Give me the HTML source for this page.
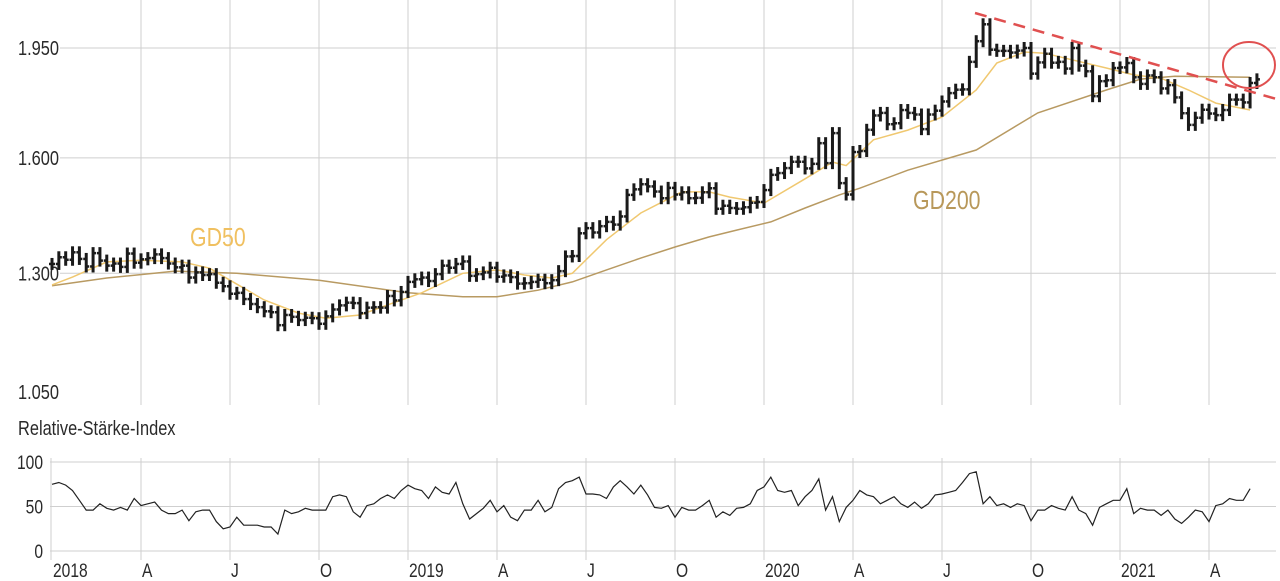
<!DOCTYPE html>
<html><head><meta charset="utf-8"><style>
html,body{margin:0;padding:0;background:#fff}
svg{display:block}
text{font-family:"Liberation Sans",sans-serif}
</style></head><body>
<svg id="c" width="1280" height="581" viewBox="0 0 1280 581"></svg>
<script>
// ---- data ----
const priceTicks = [1950, 1600, 1300, 1050];
const priceTickLabels = ["1.950", "1.600", "1.300", "1.050"];
const rsiTicks = [100, 50, 0];
const quarterLabels = ["2018","A","J","O","2019","A","J","O","2020","A","J","O","2021","A"];
const weeklyClose = [
1322,1338,1332,1350,1334, 1316,1348,1330,1318, 1323,1315,1347,1325,1333, 1336,1345,1336,1323,
1314,1318,1290,1302, 1296,1298,1278,1270,1253, 1255,1241,1230,1223, 1214,1212,1184,1206,1202,
1195,1200,1199,1187, 1203,1218,1227,1233, 1232,1210,1222,1223, 1222,1248,1238,1257,1280,
1286,1290,1282,1298, 1318,1313,1322,1328, 1294,1298,1302,1313,1292, 1295,1291,1276,1277,
1280,1285,1277,1284,1305, 1340,1341,1397,1410, 1399,1415,1426,1419, 1440,1497,1512,1526,1520,
1506,1488,1516,1498, 1504,1488,1489,1504, 1515,1460,1468,1462,1460, 1464,1476,1478,1510,
1552,1557,1571,1589,1589, 1570,1583,1643,1585, 1673,1529,1498,1617, 1620,1683,1727,1735,
1700,1703,1744,1735,1730, 1685,1730,1742,1771, 1798,1809,1810,1902,1974, 2035,1944,1940,1940,
1934,1941,1950,1862, 1900,1930,1899,1902,1879, 1950,1889,1870,1788, 1837,1840,1881,1883,1898,
1850,1828,1856,1850, 1813,1824,1784,1734, 1698,1720,1745,1733, 1728,1744,1777,1777,1768, 1831,1843
];
const gd50Weeks = [0,3,8,13,19,23,26,31,36,40,45,49,54,60,65,69,73,76,81,86,92,96,99,104,110,114,116,120,125,130,135,138,142,145,149,154,158,162,166,170,175];
const gd50Values = [1273,1291,1327,1331,1327,1312,1284,1239,1210,1199,1206,1228,1255,1300,1308,1296,1289,1300,1381,1449,1505,1505,1491,1475,1541,1588,1578,1653,1682,1722,1808,1898,1936,1932,1909,1881,1858,1847,1808,1766,1744];
const gd200Weeks = [0,8,18,27,39,52,60,65,71,76,81,86,91,96,100,105,110,115,118,125,135,144,154,159,164,175];
const gd200Values = [1271,1289,1305,1300,1284,1255,1246,1246,1261,1280,1308,1336,1363,1388,1405,1426,1462,1497,1515,1565,1623,1735,1808,1844,1853,1850];
const rsiValues = [
75,77,74,68,57,46,46,53,48,46,49,46,59,51,53,55,46,42,42,46,34,44,46,46,33,25,27,38,29,29,29,27,27,19,
46,42,44,48,46,46,46,61,63,61,44,38,51,53,59,63,59,68,74,70,68,59,72,66,64,77,53,36,42,48,57,44,51,38,34,
46,46,57,44,49,70,77,79,83,64,64,63,59,72,79,72,64,74,63,49,48,51,38,49,46,46,51,57,38,44,40,48,49,53,68,72,
83,68,66,68,51,61,68,81,46,61,33,49,57,68,63,61,53,57,61,53,49,55,48,53,63,64,66,68,77,87,89,53,61,51,53,49,
53,51,34,46,46,51,48,46,61,46,42,29,49,53,57,57,70,42,48,46,46,40,46,36,31,38,46,44,33,51,53,59,57,57,70
];
// ---- scales ----
const NS = "http://www.w3.org/2000/svg";
const svg = document.getElementById('c');
const X0 = 52, WK = 89/13;
const xW = w => X0 + w * WK;
const yP = p => 48 + Math.log(1950 / p) * 555.6;
const yR = v => 551 - v * 0.89;
function el(tag, attrs, parent) {
  const e = document.createElementNS(NS, tag);
  for (const k in attrs) e.setAttribute(k, attrs[k]);
  (parent || svg).appendChild(e);
  return e;
}
function txt(s, x, y, size, color, anchor) {
  const t = el('text', {transform: `translate(${x},${y}) scale(0.82,1)`, 'font-size': size, style: 'fill:' + color, 'text-anchor': anchor || 'start'});
  t.textContent = s;
  return t;
}
// ---- grid ----
const grid = el('g', {stroke: '#cfcfcf', 'stroke-width': 1});


quarterLabels.forEach((q, i) => {
  const x = xW(i * 13);
  if (i > 0) {
    el('line', {x1: x, x2: x, y1: 0, y2: 405}, grid);
    el('line', {x1: x, x2: x, y1: 458, y2: 560}, grid);
  }
  const t = txt(q, x + 1, 577, 19, '#2a2a2a');
  
  
});
priceTicks.forEach((p, i) => {
  const y = yP(p);
  if (i < 3) el('line', {x1: 60, x2: 1276, y1: y, y2: y}, grid);
  const t = txt(priceTickLabels[i], 18, y + 7, 20, '#2a2a2a');
  
  
});
rsiTicks.forEach(v => {
  const y = yR(v);
  el('line', {x1: 50, x2: 1276, y1: y, y2: y}, grid);
  const t = txt(String(v), 43, y + 7, 19, '#2a2a2a', 'end');
  
  
});
el('line', {x1: 51, x2: 51, y1: 458, y2: 560}, grid);
const rl = txt('Relative-Stärke-Index', 18, 435, 20, '#2a2a2a');


// ---- moving averages ----
function line(weeks, vals, color, name, w) {
  const d = weeks.map((wk, i) => (i ? 'L' : 'M') + xW(wk).toFixed(1) + ',' + yP(vals[i]).toFixed(1)).join('');
  const p = el('path', {d, fill: 'none', stroke: color, 'stroke-width': w});
  
  
}
line(gd200Weeks, gd200Values, '#b89a62', 'gd200-line', 1.5);
line(gd50Weeks, gd50Values, '#f0c870', 'gd50-line', 1.5);
// ---- price bars ----
const bars = el('g', {stroke: '#1a1a1a', 'stroke-width': 3});


weeklyClose.forEach((c, i) => {
  const o = i ? weeklyClose[i - 1] : c;
  const x = xW(i);
  const yo = yP(o), yc = yP(c);
  const top = Math.min(yo, yc) - 6, bot = Math.max(yo, yc) + 6;
  const b = el('line', {x1: x, x2: x, y1: top, y2: bot}, bars);
  
  
  el('line', {x1: x - 3, x2: x, y1: yo, y2: yo, 'stroke-width': 2.5}, bars);
  el('line', {x1: x, x2: x + 3, y1: yc, y2: yc, 'stroke-width': 2.5}, bars);
});
// ---- annotations ----
const tl = el('line', {x1: 975, y1: 13, x2: 1280, y2: 100, stroke: '#e05050', 'stroke-width': 2.5, 'stroke-dasharray': '12,8'});


const ci = el('ellipse', {cx: 1249, cy: 65, rx: 26, ry: 23, fill: 'none', stroke: '#e05050', 'stroke-width': 2});


const l50 = txt('GD50', 190, 246, 26, '#f0c060');


const l200 = txt('GD200', 913, 209, 26, '#b8985a');


// ---- RSI ----
const rd = rsiValues.map((v, i) => (i ? 'L' : 'M') + xW(i).toFixed(1) + ',' + yR(v).toFixed(1)).join('');
const rp = el('path', {d: rd, fill: 'none', stroke: '#222', 'stroke-width': 1.2});


</script>
</body></html>
